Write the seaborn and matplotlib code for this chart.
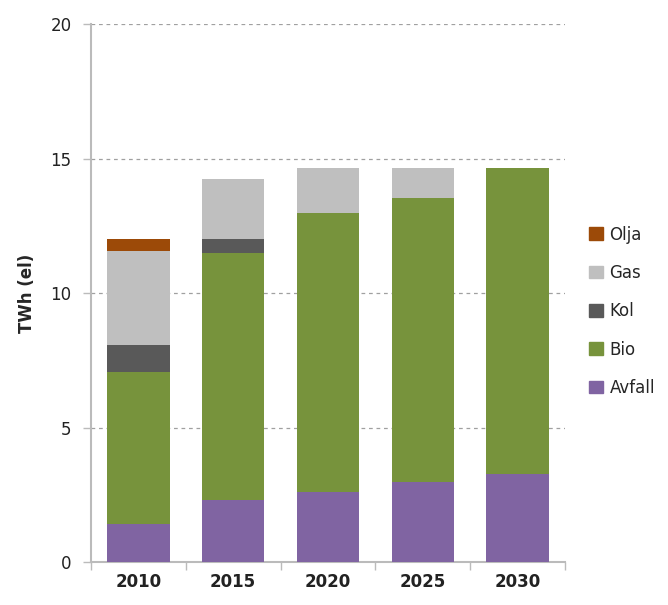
import matplotlib
matplotlib.use("Agg")
import matplotlib.pyplot as plt
import matplotlib.patches as mpatches
import seaborn as sns
import pandas as pd
import numpy as np

years = ["2010", "2015", "2020", "2025", "2030"]
avfall = [1.41, 2.31, 2.62, 2.99, 3.29]
bio = [5.65, 9.17, 10.35, 10.53, 11.37]
kol = [1.01, 0.52, 0.0, 0.0, 0.0]
gas = [3.50, 2.23, 1.69, 1.14, 0.0]
olja = [0.43, 0.0, 0.0, 0.0, 0.0]

series_names = ["Avfall", "Bio", "Kol", "Gas", "Olja"]
series_vals = [avfall, bio, kol, gas, olja]
colors = {"Avfall": "#8064A2", "Bio": "#77933C", "Kol": "#595959",
          "Gas": "#BFBFBF", "Olja": "#9C4A08"}
yticks = [0, 5, 10, 15, 20]

sns.set_theme(style="white")
plt.rcParams['font.family'] = ['DejaVu Sans']

fig = plt.figure(figsize=(6.68, 6.05), dpi=100)
ax = fig.add_axes([0.136, 0.071, 0.71, 0.889])

cum = np.cumsum(np.array(series_vals), axis=0)
for i in range(len(series_names) - 1, -1, -1):
    df = pd.DataFrame({"year": years, "val": cum[i]})
    sns.barplot(data=df, x="year", y="val", color=colors[series_names[i]],
                saturation=1, width=0.66, ax=ax, edgecolor="none", zorder=3)

ax.set_xlim(-0.5, 4.5)
ax.set_ylim(0, 20)
ax.set_yticks(yticks)
ax.set_yticklabels([str(t) for t in yticks], fontsize=12, color="#222222")
ax.set_xlabel("")
ax.set_ylabel("TWh (el)", fontsize=12, fontweight="bold", labelpad=10)
ax.tick_params(axis="x", length=0, labelsize=12, pad=8, labelcolor="#222222")
for lab in ax.get_xticklabels():
    lab.set_fontweight("semibold")
ax.set_xticks(np.arange(-0.5, 5, 1), minor=True)
ax.tick_params(axis="x", which="minor", length=6, width=1, color="#BBBBBB", bottom=True)
ax.tick_params(axis="y", length=6, width=1, color="#BBBBBB", left=True, pad=8)

for y in yticks[1:]:
    ax.axhline(y, color="#A0A0A0", linestyle=(0, (3, 3)), linewidth=0.9, zorder=1)

for s in ["top", "right"]:
    ax.spines[s].set_visible(False)
for s in ["left", "bottom"]:
    ax.spines[s].set_color("#BBBBBB")
    ax.spines[s].set_linewidth(1.5)

handles = [mpatches.Patch(color=colors[n], label=n) for n in reversed(series_names)]
fig.legend(handles=handles, loc="upper left", bbox_to_anchor=(0.86, 0.652),
           frameon=False, fontsize=12, handlelength=0.8, handleheight=0.8,
           handletextpad=0.4, labelspacing=1.22)

fig.savefig("out.png", dpi=100)
